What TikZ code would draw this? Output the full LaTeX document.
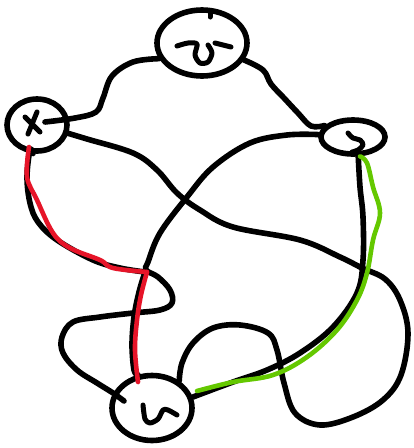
\documentclass[tikz,border=0pt]{standalone}
\usetikzlibrary{shapes.geometric}
\definecolor{redink}{RGB}{230,20,40}
\definecolor{greenink}{RGB}{100,200,0}
\tikzset{
  ink/.style={line width=5.6pt, line cap=round, line join=round, black},
  glyph/.style={line width=5pt, line cap=round, line join=round, black},
  redpath/.style={line width=4.6pt, line cap=round, line join=round, redink},
  greenpath/.style={line width=4.6pt, line cap=round, line join=round, greenink},
  bubble/.style={ellipse, draw, line width=5.6pt, inner sep=0pt, fill=white}
}
\begin{document}
\begin{tikzpicture}[x=1pt,y=-1pt]
\useasboundingbox[fill=white] (0,0) rectangle (414,448);
% nodes
\node[bubble, minimum width=90pt, minimum height=66pt] (T) at (202,43) {};
\node[bubble, minimum width=60pt, minimum height=52pt] (L) at (37,125) {};
\node[bubble, minimum width=64pt, minimum height=34pt] (R) at (353,137) {};
\node[bubble, minimum width=80pt, minimum height=65pt] (B) at (152,408) {};
% connectors
% T -- L
\draw[ink] plot[smooth, tension=0.6] coordinates {(T.200) (133,62) (112,76) (103,98) (96,112) (75,118) (45,122)};
% T -- R
\draw[ink] plot[smooth, tension=0.6] coordinates {(T.-22) (263,70) (271,84) (284,98) (298,113) (311,126) (R.158)};
% L -- B big loop
\draw[ink] plot[smooth, tension=0.6] coordinates {(L.-15) (87,139) (133,153) (157,170) (177,193) (200,210) (233,227) (300,240) (340,257) (362,268) (385,279) (400,300) (408,333) (401,375) (383,400) (353,417) (320,425) (295,413) (284,383) (277,350) (268,333) (240,325) (213,328) (193,343) (182,363) (B.45)};
% R -- B crossing loop
\draw[ink] plot[smooth, tension=0.6] coordinates {(R.176) (287,135) (250,143) (213,167) (187,197) (160,233) (148,262) (146,270) (158,277) (170,290) (172,303) (160,310) (133,313) (100,317) (73,322) (62,337) (63,353) (77,370) (97,383) (113,393) (124,401)};
% L -- B (black under red)
\draw[ink] plot[smooth, tension=0.6] coordinates {(L.-98) (30,150) (27,177) (30,203) (38,222) (57,240) (93,260) (120,268) (145,272)};
\draw[ink] plot[smooth, tension=0.6] coordinates {(145,272) (139,292) (134,317) (132,345) (134,370) (B.113)};
% R -- B (black under green)
\draw[ink] plot[smooth, tension=0.6] coordinates {(R.-75) (360,187) (363,217) (363,260) (357,293) (333,327) (300,353) (267,370) (233,382) (B.15)};
% highlighted paths
\draw[redpath] plot[smooth, tension=0.6] coordinates {(29,147) (27,177) (37,200) (53,233) (70,248) (100,260) (113,268) (147,272)};
\draw[redpath] plot[smooth, tension=0.6] coordinates {(147,272) (141,295) (137,320) (135,350) (138,382)};
\draw[greenpath] plot[smooth, tension=0.6] coordinates {(R.-70) (367,163) (373,187) (380,213) (373,240) (367,273) (357,300) (337,330) (307,357) (273,375) (233,382) (197,391)};
% glyphs
\draw[glyph] plot[smooth, tension=0.5] coordinates {(177,46) (188,43) (197,44) (195,55) (200,63) (208,62) (212,53) (208,45)};
\draw[glyph] (215,43) -- (231,47);
\draw[glyph] (210,12) -- (210,17);
\draw[glyph] (25,117) -- (40,132);
\draw[glyph] (37,112) -- (28,134);
\draw[glyph] plot[smooth, tension=0.6] coordinates {(348,133) (353,138) (360,140) (363,145) (358,150) (352,152)};
\draw[glyph] plot[smooth, tension=0.5] coordinates {(143,405) (145,419) (150,423) (158,419) (163,410) (168,410) (177,415)};
\end{tikzpicture}
\end{document}
